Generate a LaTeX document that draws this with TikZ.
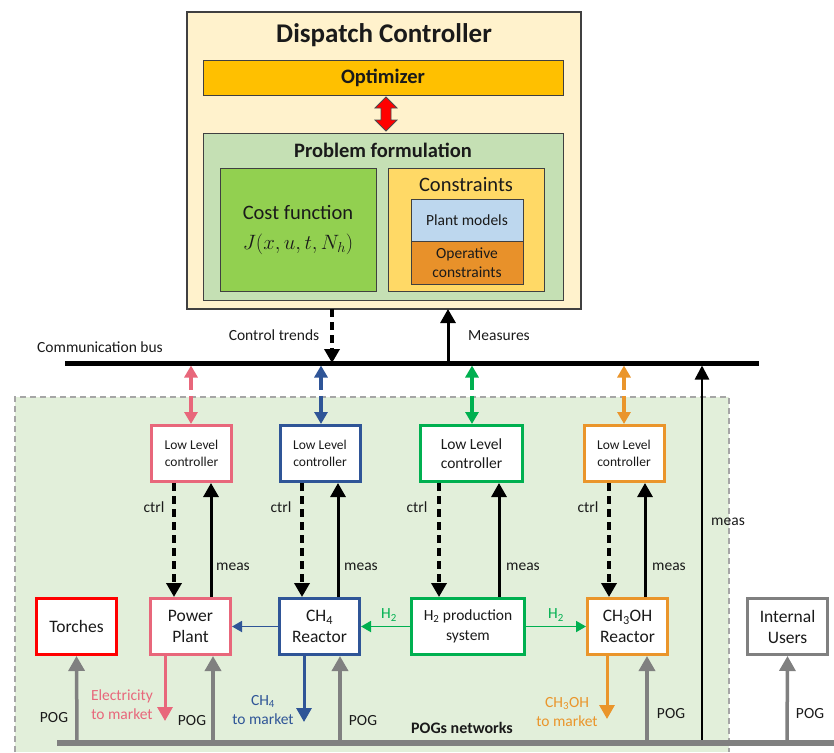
\documentclass[tikz,border=0pt]{standalone}
\usepackage{fontspec}
\setmainfont{Carlito}
\usetikzlibrary{arrows.meta,calc}
\definecolor{cream}{HTML}{FFF2CC}
\definecolor{optc}{HTML}{FFC000}
\definecolor{probc}{HTML}{C5E0B4}
\definecolor{costc}{HTML}{92D050}
\definecolor{consc}{HTML}{FFD966}
\definecolor{plantc}{HTML}{BDD7EE}
\definecolor{operc}{HTML}{E8912A}
\definecolor{greenbg}{HTML}{E2EFDA}
\definecolor{dashgray}{HTML}{A6A6A6}
\definecolor{pinkc}{HTML}{E8677B}
\definecolor{bluec}{HTML}{2F5597}
\definecolor{greenc}{HTML}{00B050}
\definecolor{orangec}{HTML}{EA952B}
\definecolor{grayc}{HTML}{808080}
\definecolor{txt}{HTML}{1A1A1A}
\begin{document}
\begin{tikzpicture}[x=1pt,y=-1pt,
  every node/.style={inner sep=0pt, outer sep=0pt, text=txt},
  fs13/.style={font=\fontsize{13.5}{16.5}\selectfont},
  fs15/.style={font=\fontsize{15.5}{19}\selectfont},
  fs17/.style={font=\fontsize{17.5}{21}\selectfont},
  fs20/.style={font=\fontsize{20.5}{24}\selectfont},
  fs20b/.style={font=\fontsize{20.5}{24}\selectfont\bfseries},
  inbox/.style={draw=black!75, line width=1pt, align=center},
  cbox/.style={draw, line width=3pt, fill=white, outer sep=1.5pt, minimum width=80pt, minimum height=56pt, align=center},
  ctrlar/.style={line width=3.5pt, dash pattern=on 8pt off 5pt, -{Triangle[width=15pt,length=14pt]}},
  measar/.style={line width=3pt, -{Triangle[width=15pt,length=14pt]}},
  busar/.style={line width=4pt, dash pattern=on 13pt off 6pt on 30pt, shorten <=2.5pt, {Triangle[width=13pt,length=12pt]}-{Triangle[width=13pt,length=12pt]}},
  pogar/.style={grayc, line width=3.5pt, shorten <=3pt, -{Triangle[width=16pt,length=15pt]}},
  outar/.style={line width=3pt, -{Triangle[width=15pt,length=14pt]}},
  flowar/.style={line width=1.8pt, -{Triangle[width=11pt,length=10pt]}}
]
\useasboundingbox (0,0) rectangle (834,752);

% green plant region
\fill[greenbg] (15,397) rectangle (729,752);
\draw[dashgray, line width=1.2pt, dash pattern=on 6pt off 4pt] (15,752) -- (15,397) -- (729,397) -- (729,752);

% dispatch controller
\node[draw=black!75, line width=1.3pt, fill=cream, minimum width=394pt, minimum height=297pt] (dc) at (384,160.5) {};
\node[font=\fontsize{27}{30}\selectfont\bfseries] (dctitle) at (384,35) {Dispatch Controller};
\node[inbox, fill=optc, minimum width=360pt, minimum height=35pt, fs20b] (opt) at (383,77.5) {Optimizer};
\node[inbox, fill=probc, minimum width=360pt, minimum height=167pt] (prob) at (383,216.5) {};
\node[fs20b] (probtitle) at (383,150) {Problem formulation};
\node[inbox, fill=costc, minimum width=156pt, minimum height=123pt, fs20] (cost) at (298,229.5) {Cost function\\[6pt]$J(x,u,t,N_h)$};
\node[inbox, fill=consc, minimum width=156pt, minimum height=123pt] (cons) at (466,229.5) {};
\node[fs20] (constitle) at (466,185) {Constraints};
\node[inbox, fill=plantc, minimum width=112pt, minimum height=42pt, fs15] (plant) at (467,220) {Plant models};
\node[inbox, fill=operc, minimum width=112pt, minimum height=43pt, fs15] (oper) at (467,262.5) {Operative\\constraints};
% red double arrow between optimizer and problem formulation
\filldraw[fill=red, draw=black!70, line width=0.8pt] (386,97) -- (397,108) -- (391,108) -- (391,120) -- (397,120) -- (386,131) -- (375,120) -- (381,120) -- (381,108) -- (375,108) -- cycle;

% communication bus
\coordinate (busL) at (65,363);
\coordinate (busR) at (759,363);
\node[fs15] (buslabel) at (100,347) {Communication bus};
\node[fs15] (ctlabel) at (274,335) {Control trends};
\node[fs15] (measlabel) at (499,336) {Measures};

% low level controllers
\node[cbox, draw=pinkc, fs13] (llc1) at (191.5,453.5) {Low Level\\controller};
\node[cbox, draw=bluec, fs13] (llc2) at (320,453.5) {Low Level\\controller};
\node[cbox, draw=greenc, fs15, minimum width=102pt] (llc3) at (471.5,453.5) {Low Level\\controller};
\node[cbox, draw=orangec, fs13] (llc4) at (624,453.5) {Low Level\\controller};

% plant units
\node[cbox, draw=red, line width=3.5pt, fs17] (torch) at (76.5,626.5) {Torches};
\node[cbox, draw=pinkc, fs17] (pp) at (190.5,626.5) {Power\\Plant};
\node[cbox, draw=bluec, fs17] (ch4) at (319.5,626.5) {CH\textsubscript{4}\\Reactor};
\node[cbox, draw=greenc, fs15, minimum width=113pt, font=\fontsize{15.5}{20}\selectfont] (h2) at (468,626.5) {H\textsubscript{2} production\\system};
\node[cbox, draw=orangec, fs17] (meoh) at (627.5,626.5) {CH\textsubscript{3}OH\\Reactor};
\node[cbox, draw=grayc, fs17] (users) at (787.5,626.5) {Internal\\Users};

% bus <-> controllers
\draw[busar, pinkc] (191,0 |- busL) -- (191,0 |- llc1.north);
\draw[busar, bluec] (321,0 |- busL) -- (321,0 |- llc2.north);
\draw[busar, greenc] (472,0 |- busL) -- (472,0 |- llc3.north);
\draw[busar, orangec] (624,0 |- busL) -- (624,0 |- llc4.north);

% dispatch <-> bus
\draw[ctrlar] (332,0 |- dc.south) -- (332,0 |- busL);
\draw[measar] (448,0 |- busL) -- (448,0 |- dc.south);

% bottom POG bus
\coordinate (pogL) at (57,743);
\coordinate (pogR) at (834,743);

% global measurement to bus
\draw[line width=2.5pt, shorten >=2.5pt, -{Triangle[width=14pt,length=14pt]}] (702,0 |- pogL) -- (702,0 |- busL);
\node[fs15] (measg) at (728,522) {meas};

\draw[line width=5pt] (busL) -- (busR);

% ctrl / meas loops
\draw[ctrlar] (174,0 |- llc1.south) -- (174,0 |- pp.north);
\draw[measar] (211,0 |- pp.north) -- (211,0 |- llc1.south);
\draw[ctrlar] (302,0 |- llc2.south) -- (302,0 |- ch4.north);
\draw[measar] (338,0 |- ch4.north) -- (338,0 |- llc2.south);
\draw[ctrlar] (439,0 |- llc3.south) -- (439,0 |- h2.north);
\draw[measar] (499,0 |- h2.north) -- (499,0 |- llc3.south);
\draw[ctrlar] (609,0 |- llc4.south) -- (609,0 |- meoh.north);
\draw[measar] (645,0 |- meoh.north) -- (645,0 |- llc4.south);

\foreach \x/\n in {154/c1, 281/c2, 417/c3, 588/c4} \node[fs15] (ctrl\n) at (\x,507) {ctrl};
\foreach \x/\n in {233/m1, 361/m2, 523/m3, 669/m4} \node[fs15] (meas\n) at (\x,567) {meas};

% material flows
\draw[flowar, bluec] (ch4.west) -- (pp.east);
\draw[flowar, greenc] (h2.west) -- (ch4.east);
\draw[flowar, greenc] (h2.east) -- (meoh.west);
\node[fs15, text=greenc] (h2a) at (389,615) {H\textsubscript{2}};
\node[fs15, text=greenc] (h2b) at (556,615) {H\textsubscript{2}};

% outputs to market
\coordinate (ppout) at (165,721);
\coordinate (ch4out) at (304,722);
\coordinate (meohout) at (607,719);
\draw[outar, pinkc] (165,0 |- pp.south) -- (ppout);
\draw[outar, bluec] (304,0 |- ch4.south) -- (ch4out);
\draw[outar, orangec] (607,0 |- meoh.south) -- (meohout);
\node[fs15, text=pinkc, align=center] (elec) at (122,705) {Electricity\\to market};
\node[fs15, text=bluec, align=center] (ch4m) at (263,710) {CH\textsubscript{4}\\to market};
\node[fs15, text=orangec, align=center] (meohm) at (567,712) {CH\textsubscript{3}OH\\to market};

% POG feeds
\draw[pogar] (77,0 |- pogL) -- (torch.south);
\draw[pogar] (213,0 |- pogL) -- (213,0 |- pp.south);
\draw[pogar] (340,0 |- pogL) -- (340,0 |- ch4.south);
\draw[pogar] (647,0 |- pogL) -- (647,0 |- meoh.south);
\draw[pogar] (787,0 |- pogL) -- (users.south);
\node[fs15] (pog1) at (54,718) {POG};
\node[fs15] (pog2) at (192,721) {POG};
\node[fs15] (pog3) at (363,721) {POG};
\node[fs15] (pog4) at (671,714) {POG};
\node[fs15] (pog5) at (810,714) {POG};
\node[font=\fontsize{16}{19}\selectfont\bfseries] (pognet) at (462,728) {POGs networks};

\draw[grayc, line width=6pt] (pogL) -- (pogR);
\end{tikzpicture}
\end{document}
